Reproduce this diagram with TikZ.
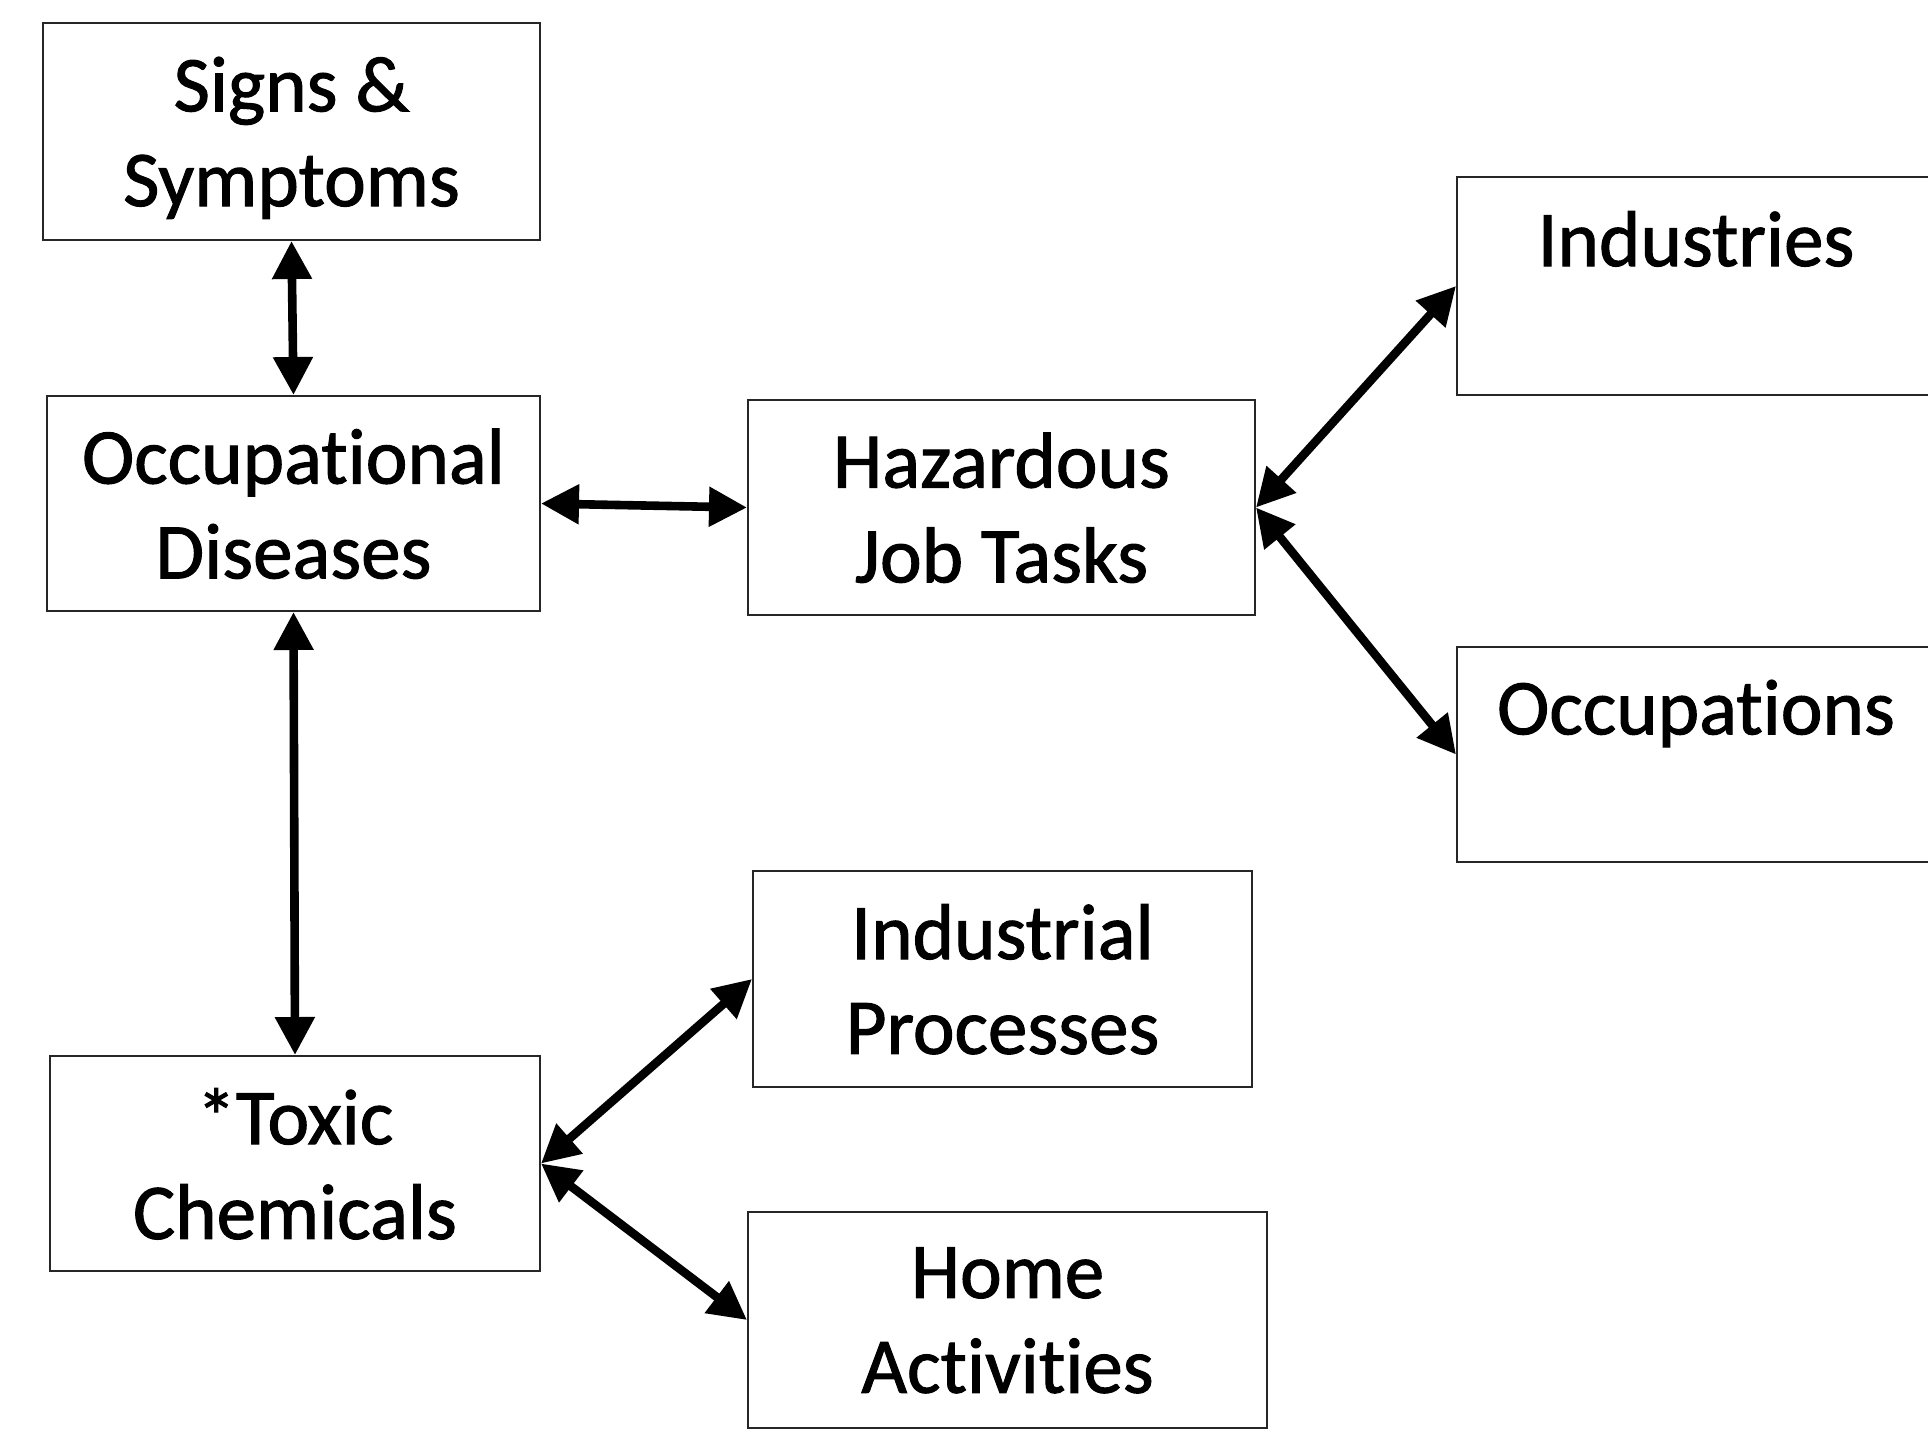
\documentclass[tikz,border=0pt]{standalone}
\usepackage{fontspec}
\setmainfont[Ligatures=NoCommon,FakeBold=1.3]{Carlito}
\usetikzlibrary{arrows.meta}
\begin{document}
\begin{tikzpicture}[x=0.5pt,y=-0.5pt,
  box/.style={draw=black!85, line width=1pt, rectangle, align=center, inner sep=0pt,
    text depth=0pt, font=\fontsize{39.5pt}{47.4pt}\selectfont},
  link/.style={line width=4.3pt, {Triangle[length=19pt,width=19pt]}-{Triangle[length=19pt,width=19pt]}}]
\useasboundingbox (0,0) rectangle (1928,1431);
\fill[white] (0,0) rectangle (1928,1431);
\node[box, minimum width=248.5pt, minimum height=108.5pt] (signs) at (291.5,131.5) {Signs \&\\Symptoms};
\node[box, minimum width=246.5pt, minimum height=107.5pt] (occ) at (293.5,503.5) {Occupational\\Diseases};
\node[box, minimum width=253.5pt, minimum height=107.5pt] (haz) at (1001.5,507.5) {Hazardous\\Job Tasks};
\node[box, minimum width=239pt, minimum height=109pt] (ind) at (1696,286) {Industries\\\mbox{}};
\node[box, minimum width=239pt, minimum height=107.5pt] (occu) at (1696,754.5) {Occupations\\\mbox{}};
\node[box, minimum width=249.5pt, minimum height=108pt] (proc) at (1002.5,979) {Industrial\\Processes};
\node[box, minimum width=245pt, minimum height=107.5pt] (tox) at (295,1163.5) {*Toxic\\Chemicals};
\node[box, minimum width=259.5pt, minimum height=108pt] (home) at (1007.5,1320) {Home\\Activities};
\draw[link] (signs.south) -- (occ.north);
\draw[link] (occ.east) -- (haz.west);
\draw[link] (occ.south) -- (tox.north);
\draw[link] (haz.east) -- (ind.west);
\draw[link] (haz.east) -- (occu.west);
\draw[link] (tox.east) -- (proc.west);
\draw[link] (tox.east) -- (home.west);
\end{tikzpicture}
\end{document}
